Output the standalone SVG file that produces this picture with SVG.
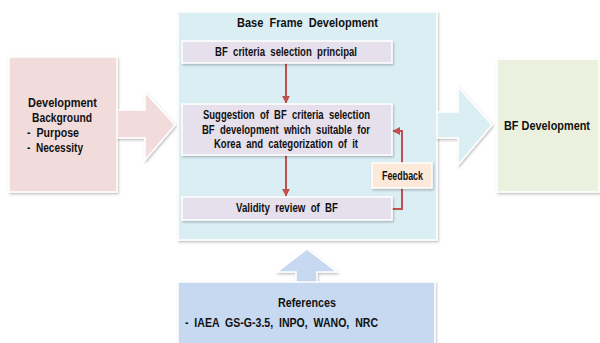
<svg xmlns="http://www.w3.org/2000/svg" width="600" height="343" viewBox="0 0 600 343">
<defs>
<filter id="sh" x="-10%" y="-10%" width="120%" height="130%">
<feDropShadow dx="1" dy="1.5" stdDeviation="1" flood-color="#000" flood-opacity="0.25"/>
</filter>
<marker id="ah" viewBox="0 0 10 10" refX="9" refY="5" markerWidth="8" markerHeight="8" orient="auto" markerUnits="userSpaceOnUse">
<path d="M0,0 L10,5 L0,10 z" fill="#c0504d"/>
</marker>
<style>
text{font-family:"Liberation Sans",Arial,sans-serif;font-weight:bold;font-size:13px;fill:#111;}
.box{stroke:#fff;stroke-width:1.5;filter:url(#sh);}
.inner{fill:#e5e0ec;stroke:#fff;stroke-width:1.5;filter:url(#sh);}
.con{fill:none;stroke:#c0504d;stroke-width:2;marker-end:url(#ah);}
.bigarrow{stroke:#fff;stroke-width:1.5;filter:url(#sh);}
</style>
</defs>
<rect width="600" height="343" fill="#fff"/>

<g id="background">
<rect class="box" x="9" y="57" width="108" height="135" fill="#f2dcdb"/>
<text x="28" y="107" textLength="69" lengthAdjust="spacingAndGlyphs">Development</text>
<text x="32" y="122" textLength="60" lengthAdjust="spacingAndGlyphs">Background</text>
<text x="27" y="137" textLength="52" lengthAdjust="spacingAndGlyphs" xml:space="preserve">-  Purpose</text>
<text x="27" y="152" textLength="56" lengthAdjust="spacingAndGlyphs" xml:space="preserve">-  Necessity</text>
</g>

<g id="arrow-left">
<path class="bigarrow" d="M117,110 L145,110 L145,92 L175,125 L145,160 L145,138 L117,138 Z" fill="#f2dcdb"/>
</g>

<g id="base-frame">
<rect class="box" x="178" y="12" width="259" height="228" fill="#dbeef3"/>
<text x="237" y="27" textLength="141" lengthAdjust="spacingAndGlyphs" xml:space="preserve">Base  Frame  Development</text>
</g>

<g id="arrow-right">
<path class="bigarrow" d="M437,112 L458,112 L458,87 L492,125 L458,165 L458,138 L437,138 Z" fill="#dbeef3"/>
</g>

<g id="bf-development">
<rect class="box" x="497" y="59" width="102" height="133" fill="#ebf1de"/>
<text x="504" y="130" font-size="12" textLength="86" lengthAdjust="spacingAndGlyphs">BF Development</text>
</g>

<g id="arrow-up">
<path class="bigarrow" d="M296,283 L296,272 L277,272 L307,249 L337,272 L317,272 L317,283 Z" fill="#c6d9f1"/>
</g>

<g id="references">
<rect class="box" x="178" y="282" width="257" height="70" fill="#c6d9f1"/>
<text x="278" y="307" textLength="58" lengthAdjust="spacingAndGlyphs">References</text>
<text x="185" y="327" textLength="193" lengthAdjust="spacingAndGlyphs" xml:space="preserve">-  IAEA  GS-G-3.5,  INPO,  WANO,  NRC</text>
</g>

<g id="connectors">
<line class="con" x1="286" y1="63" x2="286" y2="103"/>
<line class="con" x1="286" y1="155" x2="286" y2="196"/>
<polyline class="con" points="392,209 402,209 402,131 393,131"/>
</g>

<g id="criteria">
<rect class="inner" x="182" y="41" width="210" height="22"/>
<text x="215" y="56" textLength="142" lengthAdjust="spacingAndGlyphs" xml:space="preserve">BF  criteria  selection  principal</text>
</g>

<g id="suggestion">
<rect class="inner" x="182" y="104" width="210" height="51"/>
<text x="203" y="119" textLength="167" lengthAdjust="spacingAndGlyphs" xml:space="preserve">Suggestion  of  BF  criteria  selection</text>
<text x="202" y="134" textLength="168" lengthAdjust="spacingAndGlyphs" xml:space="preserve">BF  development  which  suitable  for</text>
<text x="214" y="148" textLength="144" lengthAdjust="spacingAndGlyphs" xml:space="preserve">Korea  and  categorization  of  it</text>
</g>

<g id="validity">
<rect class="inner" x="182" y="197" width="210" height="23"/>
<text x="236" y="212" textLength="102" lengthAdjust="spacingAndGlyphs" xml:space="preserve">Validity  review  of  BF</text>
</g>

<g id="feedback">
<rect class="box" x="372" y="163" width="60" height="25" fill="#fde9d9"/>
<text x="382" y="180" textLength="41" lengthAdjust="spacingAndGlyphs">Feedback</text>
</g>
</svg>
